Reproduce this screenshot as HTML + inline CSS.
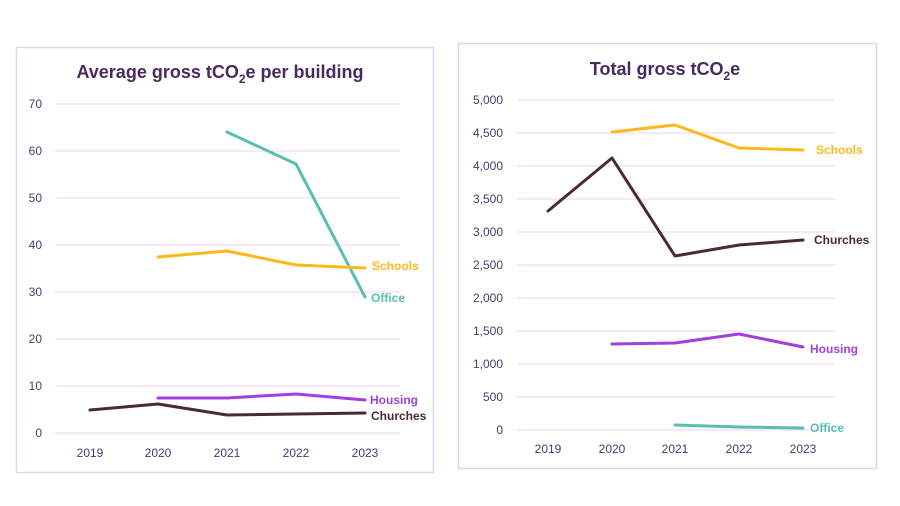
<!DOCTYPE html>
<html><head><meta charset="utf-8"><style>
html,body{margin:0;padding:0;background:#fff;width:900px;height:506px;overflow:hidden}
svg{display:block;font-family:"Liberation Sans",sans-serif}
</style></head><body>
<svg width="900" height="506" viewBox="0 0 900 506">
<rect x="16.5" y="47.5" width="417" height="425" fill="#fff" stroke="#e6d3f3" stroke-width="1.5"/>
<rect x="458.5" y="43.5" width="418" height="425" fill="#fff" stroke="#e6d3f3" stroke-width="1.5"/>
<g stroke="#e8d5f5" stroke-width="1">
<line x1="55" x2="400" y1="104" y2="104"/><line x1="55" x2="400" y1="151" y2="151"/><line x1="55" x2="400" y1="198" y2="198"/><line x1="55" x2="400" y1="245" y2="245"/><line x1="55" x2="400" y1="292" y2="292"/><line x1="55" x2="400" y1="339" y2="339"/><line x1="55" x2="400" y1="386" y2="386"/><line x1="55" x2="400" y1="433" y2="433"/>
<line x1="517" x2="835" y1="100" y2="100"/><line x1="517" x2="835" y1="133" y2="133"/><line x1="517" x2="835" y1="166" y2="166"/><line x1="517" x2="835" y1="199" y2="199"/><line x1="517" x2="835" y1="232" y2="232"/><line x1="517" x2="835" y1="265" y2="265"/><line x1="517" x2="835" y1="298" y2="298"/><line x1="517" x2="835" y1="331" y2="331"/><line x1="517" x2="835" y1="364" y2="364"/><line x1="517" x2="835" y1="397" y2="397"/><line x1="517" x2="835" y1="430" y2="430"/>
</g>
<g fill="#4b3a6b" font-size="12" text-anchor="end">
<text x="42" y="108">70</text><text x="42" y="155">60</text><text x="42" y="202">50</text><text x="42" y="249">40</text><text x="42" y="296">30</text><text x="42" y="343">20</text><text x="42" y="390">10</text><text x="42" y="437">0</text>
<text x="503" y="104">5,000</text><text x="503" y="137">4,500</text><text x="503" y="170">4,000</text><text x="503" y="203">3,500</text><text x="503" y="236">3,000</text><text x="503" y="269">2,500</text><text x="503" y="302">2,000</text><text x="503" y="335">1,500</text><text x="503" y="368">1,000</text><text x="503" y="401">500</text><text x="503" y="434">0</text>
</g>
<g fill="#4b3a6b" font-size="12" text-anchor="middle">
<text x="90" y="457">2019</text><text x="158" y="457">2020</text><text x="227" y="457">2021</text><text x="296" y="457">2022</text><text x="365" y="457">2023</text>
<text x="548" y="453">2019</text><text x="612" y="453">2020</text><text x="675" y="453">2021</text><text x="739" y="453">2022</text><text x="803" y="453">2023</text>
</g>
<g fill="#4a2a5e" font-weight="bold" font-size="18" text-anchor="middle">
<text x="220" y="78">Average gross tCO<tspan font-size="12" dy="5">2</tspan><tspan dy="-5">e  per building</tspan></text>
<text x="665" y="75">Total gross tCO<tspan font-size="12" dy="5">2</tspan><tspan dy="-5">e</tspan></text>
</g>
<g fill="none" stroke-width="3" stroke-linejoin="round" stroke-linecap="round">
<polyline stroke="#5bbfb0" points="227,132 296,164 365,297"/>
<polyline stroke="#ffb81c" points="158,257 227,251 296,265 365,268"/>
<polyline stroke="#a23fe0" points="158,398 227,398 296,394 365,400"/>
<polyline stroke="#4a2a33" points="90,410 158,404 227,415 296,414 365,413"/>
<polyline stroke="#ffb81c" points="612,132 675,125 739,148 803,150"/>
<polyline stroke="#4a2a33" points="548,211 612,158 675,256 739,245 803,240"/>
<polyline stroke="#a23fe0" points="612,344 675,343 739,334 803,347"/>
<polyline stroke="#5bbfb0" points="675,425 739,427 803,428"/>
</g>
<g font-size="12" font-weight="bold">
<text x="372" y="270" fill="#ffb81c">Schools</text>
<text x="371" y="302" fill="#5bbfb0">Office</text>
<text x="370" y="404" fill="#a23fe0">Housing</text>
<text x="371" y="420" fill="#4a2a33">Churches</text>
<text x="816" y="154" fill="#ffb81c">Schools</text>
<text x="814" y="244" fill="#4a2a33">Churches</text>
<text x="810" y="353" fill="#a23fe0">Housing</text>
<text x="810" y="432" fill="#5bbfb0">Office</text>
</g>
</svg>
</body></html>
